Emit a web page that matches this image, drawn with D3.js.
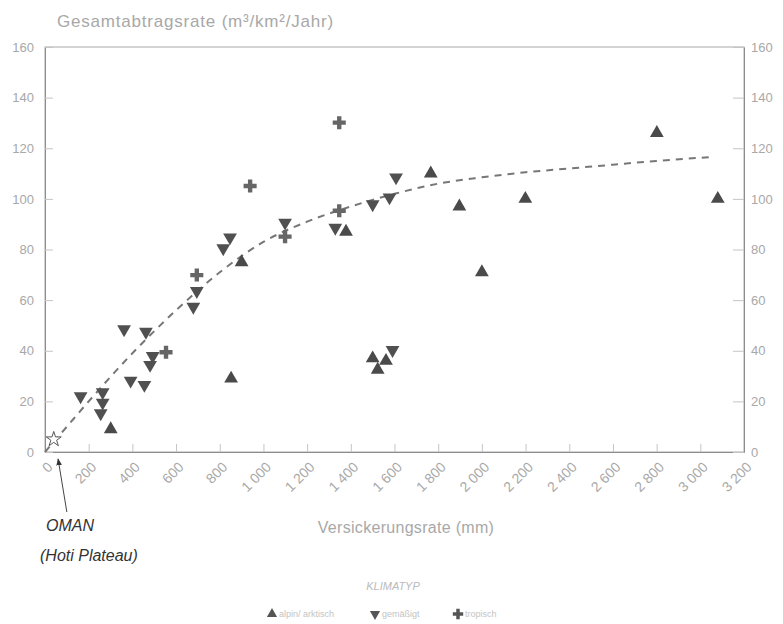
<!DOCTYPE html>
<html>
<head>
<meta charset="utf-8">
<script src="https://cdn.jsdelivr.net/npm/d3@7"></script>
<style>
  body { margin: 0; background: #fff; }
  svg { font-family: "Liberation Sans", Arial, sans-serif; }
</style>
</head>
<body>
<svg id="canvas"></svg>
<script>
// tick values
const xTicks = d3.range(0, 3201, 200);
const yTicks = d3.range(0, 161, 20);

// Klimatyp: alpin/arktisch (triangle up)
const alpinX = [301, 852, 900, 1378, 1500, 1561, 1523, 1766, 1897, 2000, 2199, 2801, 3080];
const alpinY = [9, 29, 75, 87, 37, 36, 32.5, 110, 97, 71, 100, 126, 100];

// gemäßigt (triangle down)
const gemX = [163, 264, 264, 255, 392, 455, 362, 462, 493, 481, 679, 695, 816, 847, 1099, 1329, 1500, 1577, 1607, 1591];
const gemY = [22, 23.6, 19.5, 15.3, 28.2, 26.5, 48.5, 47.5, 37.9, 34.4, 57.4, 63.6, 80.5, 84.8, 90.6, 88.6, 97.9, 100.6, 108.5, 40.3];

// tropisch (cross)
const tropX = [554, 695, 939, 1099, 1347, 1347];
const tropY = [39.4, 69.9, 105.1, 85.1, 95.3, 130.1];

// Oman (Hoti Plateau)
const omanX = [40];
const omanY = [5];

// dashed trend curve
const trendX = [0, 100, 200, 400, 600, 800, 1000, 1200, 1400, 1600, 1800, 2000, 2200, 2400, 2600, 2800, 3050];
const trendY = [0, 10, 20, 39, 56, 71, 83, 91, 97, 102, 106, 108.5, 110.5, 112, 113.5, 115, 116.5];

const W = 783, H = 624;
const plotL = 45, plotR = 744, plotT = 47, plotB = 452;

const svg = d3.select('svg#canvas').attr('width', W).attr('height', H);

const x = d3.scaleLinear().domain([0, 3200]).range([plotL, plotR]);
const y = d3.scaleLinear().domain([0, 160]).range([plotB, plotT]);

const de = d3.formatLocale({decimal: ',', thousands: ' ', grouping: [3], currency: ['', '']});
const fmt = de.format(',d');

const axisColor = '#8c8c8c', labelColor = '#a8a8a8';

// frame
svg.append('rect')
    .attr('x', plotL).attr('y', plotT)
    .attr('width', plotR - plotL).attr('height', plotB - plotT)
    .attr('fill', 'none').attr('stroke', '#aaa').attr('stroke-width', 1);

function styleAxis(g) {
    g.select('.domain').attr('stroke', axisColor);
    g.selectAll('.tick line').attr('stroke', '#c4c4c4');
    g.selectAll('.tick text').attr('fill', labelColor).attr('font-size', 13);
}

svg.append('g')
    .attr('transform', `translate(0,${plotB})`)
    .call(d3.axisBottom(x).tickValues(xTicks).tickFormat(fmt).tickSize(-8).tickSizeOuter(0))
    .call(styleAxis)
    .call(g => g.selectAll('.tick text')
        .attr('text-anchor', 'end')
        .attr('font-size', 14)
        .attr('y', 0)
        .attr('dy', 0)
        .attr('transform', 'translate(8,16) rotate(-45)'));

svg.append('g')
    .attr('transform', `translate(${plotL},0)`)
    .call(d3.axisLeft(y).tickValues(yTicks).tickSize(-8).tickSizeOuter(0).tickPadding(11))
    .call(styleAxis);

svg.append('g')
    .attr('transform', `translate(${plotR},0)`)
    .call(d3.axisRight(y).tickValues(yTicks).tickSize(-11).tickSizeOuter(0).tickPadding(7))
    .call(styleAxis)
    .call(g => g.selectAll('.tick text').attr('x', 7));

// trend
const trend = trendX.map((v, i) => [v, trendY[i]]);
svg.append('path')
    .datum(trend)
    .attr('fill', 'none')
    .attr('stroke', '#777')
    .attr('stroke-width', 2)
    .attr('stroke-dasharray', '7,6')
    .attr('d', d3.line().x(d => x(d[0])).y(d => y(d[1])).curve(d3.curveMonotoneX));

// markers
const tri = d3.symbol().type(d3.symbolTriangle).size(82);
const cross = d3.symbol().type(d3.symbolCross).size(95);

svg.append('g').selectAll('path')
    .data(alpinX.map((v, i) => [v, alpinY[i]]))
    .join('path')
    .attr('d', tri)
    .attr('fill', '#4a4a4a')
    .attr('transform', d => `translate(${x(d[0])},${y(d[1])})`);

svg.append('g').selectAll('path')
    .data(gemX.map((v, i) => [v, gemY[i]]))
    .join('path')
    .attr('d', tri)
    .attr('fill', '#505050')
    .attr('transform', d => `translate(${x(d[0])},${y(d[1])}) rotate(180)`);

svg.append('g').selectAll('path')
    .data(tropX.map((v, i) => [v, tropY[i]]))
    .join('path')
    .attr('d', cross)
    .attr('fill', '#666')
    .attr('transform', d => `translate(${x(d[0])},${y(d[1])})`);

svg.append('g').selectAll('path')
    .data(omanX.map((v, i) => [v, omanY[i]]))
    .join('path')
    .attr('d', d3.symbol().type(d3.symbolStar).size(70))
    .attr('fill', '#fff')
    .attr('stroke', '#555')
    .attr('stroke-width', 1)
    .attr('transform', d => `translate(${x(d[0])},${y(d[1])})`);

// Oman arrow
svg.append('defs').append('marker')
    .attr('id', 'ah').attr('viewBox', '0 0 10 10')
    .attr('refX', 9).attr('refY', 5)
    .attr('markerWidth', 7).attr('markerHeight', 7)
    .attr('orient', 'auto')
    .append('path').attr('d', 'M0,1L10,5L0,9Z').attr('fill', '#333');

svg.append('line')
    .attr('x1', x(100)).attr('y1', 512)
    .attr('x2', x(60)).attr('y2', 459)
    .attr('stroke', '#444').attr('stroke-width', 1)
    .attr('marker-end', 'url(#ah)');

svg.append('text')
    .attr('x', 46).attr('y', 531)
    .attr('font-size', 16).attr('font-style', 'italic').attr('fill', '#333')
    .text('OMAN');
svg.append('text')
    .attr('x', 40).attr('y', 561)
    .attr('font-size', 16).attr('font-style', 'italic').attr('fill', '#333')
    .text('(Hoti Plateau)');

// titles
svg.append('text')
    .attr('x', 57).attr('y', 27)
    .attr('font-size', 17).attr('letter-spacing', 0.8).attr('fill', labelColor)
    .text('Gesamtabtragsrate (m³/km²/Jahr)');

svg.append('text')
    .attr('x', 406).attr('y', 533)
    .attr('text-anchor', 'middle')
    .attr('font-size', 16).attr('letter-spacing', 0.3).attr('fill', labelColor)
    .text('Versickerungsrate (mm)');

// legend
svg.append('text')
    .attr('x', 393).attr('y', 590)
    .attr('text-anchor', 'middle')
    .attr('font-size', 11).attr('font-style', 'italic').attr('fill', '#bbb')
    .text('KLIMATYP');

const legendItems = [
    {label: 'alpin/ arktisch', sym: d3.symbolTriangle, rot: 0, x: 272},
    {label: 'gemäßigt', sym: d3.symbolTriangle, rot: 180, x: 375},
    {label: 'tropisch', sym: d3.symbolCross, rot: 0, x: 458}
];
const lg = svg.append('g').selectAll('g')
    .data(legendItems)
    .join('g')
    .attr('transform', d => `translate(${d.x},614)`);
lg.append('path')
    .attr('d', d => d3.symbol().type(d.sym).size(d.sym === d3.symbolCross ? 60 : 45)())
    .attr('transform', d => `rotate(${d.rot})`)
    .attr('fill', '#555');
lg.append('text')
    .attr('x', 7).attr('dy', '0.35em')
    .attr('font-size', 9).attr('fill', '#c4c4c4')
    .text(d => d.label);
</script>
</body>
</html>
